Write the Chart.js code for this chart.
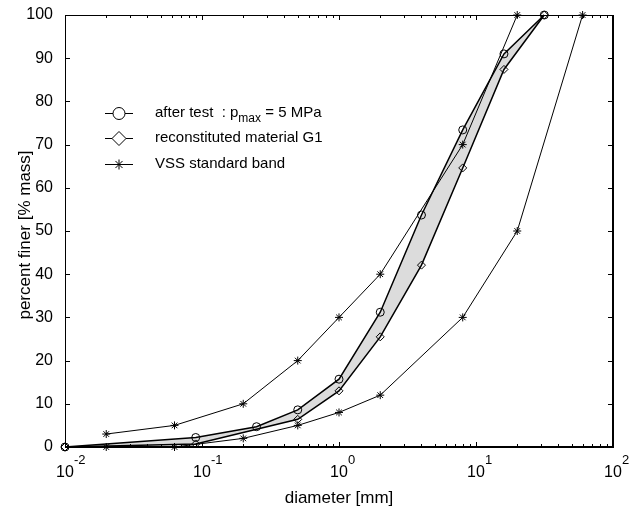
<!DOCTYPE html>
<html>
<head>
<meta charset="utf-8">
<script src="https://cdn.jsdelivr.net/npm/chart.js@4.4.1/dist/chart.umd.min.js"></script>
<style>
  html, body { margin: 0; padding: 0; background: #fff; }
  #wrap { width: 641px; height: 507px; }
</style>
</head>
<body>
<div id="wrap"><canvas id="chart" width="641" height="507"></canvas></div>
<script>
// grain size curves
const afterX = [0.01, 0.09, 0.25, 0.5, 1, 2, 4, 8, 16, 31.5];
const afterY = [0, 2.2, 4.7, 8.6, 15.7, 31.2, 53.7, 73.4, 91, 100];
const reconX = [0.01, 0.09, 0.5, 1, 2, 4, 8, 16, 31.5];
const reconY = [0, 0.7, 6.4, 13, 25.5, 42.1, 64.6, 87.4, 100];
const vssUpperX = [0.02, 0.063, 0.2, 0.5, 1, 2, 8, 20];
const vssUpperY = [3, 5, 10, 20, 30, 40, 70, 100];
const vssLowerX = [0.02, 0.063, 0.2, 0.5, 1, 2, 8, 20, 60];
const vssLowerY = [0, 0, 2, 5, 8, 12, 30, 50, 100];

const xTickExp = [-2, -1, 0, 1, 2];
const yTicks = [0, 10, 20, 30, 40, 50, 60, 70, 80, 90, 100];

const FONT = "'Liberation Sans', Arial, Helvetica, sans-serif";

function pts(xs, ys) {
  return xs.map((x, i) => ({ x: x, y: ys[i] }));
}

function marker(ctx, style, x, y, r) {
  ctx.beginPath();
  if (style === 'circle') {
    ctx.arc(x, y, r, 0, Math.PI * 2);
  } else if (style === 'rectRot') {
    ctx.moveTo(x, y - r);
    ctx.lineTo(x + r, y);
    ctx.lineTo(x, y + r);
    ctx.lineTo(x - r, y);
    ctx.closePath();
  } else {
    for (let a = 0; a < 4; a++) {
      const ang = a * Math.PI / 4;
      ctx.moveTo(x - Math.cos(ang) * r, y - Math.sin(ang) * r);
      ctx.lineTo(x + Math.cos(ang) * r, y + Math.sin(ang) * r);
    }
  }
  ctx.stroke();
}

const framePlugin = {
  id: 'frame',
  afterDraw(chart) {
    const ctx = chart.ctx;
    const area = chart.chartArea;
    const xs = chart.scales.x;
    const ys = chart.scales.y;
    ctx.save();
    ctx.strokeStyle = '#000';
    ctx.fillStyle = '#000';

    // box
    ctx.lineWidth = 1;
    ctx.beginPath();
    ctx.moveTo(area.left + 0.5, area.bottom);
    ctx.lineTo(area.left + 0.5, area.top + 0.5);
    ctx.lineTo(area.right, area.top + 0.5);
    ctx.stroke();
    ctx.lineWidth = 2;
    ctx.beginPath();
    ctx.moveTo(area.left, area.bottom);
    ctx.lineTo(area.right, area.bottom);
    ctx.lineTo(area.right, area.top);
    ctx.stroke();

    // x ticks, major + minor, top and bottom
    ctx.lineWidth = 1;
    ctx.beginPath();
    for (let e = -2; e <= 1; e++) {
      for (let k = 1; k <= 9; k++) {
        const px = Math.round(xs.getPixelForValue(k * Math.pow(10, e))) + 0.5;
        const len = k === 1 ? 5 : 3;
        ctx.moveTo(px, area.bottom);
        ctx.lineTo(px, area.bottom - len);
        ctx.moveTo(px, area.top);
        ctx.lineTo(px, area.top + len);
      }
    }
    // y ticks left and right
    yTicks.forEach(v => {
      const py = Math.round(ys.getPixelForValue(v)) + 0.5;
      ctx.moveTo(area.left, py);
      ctx.lineTo(area.left + 5, py);
      ctx.moveTo(area.right, py);
      ctx.lineTo(area.right - 5, py);
    });
    ctx.stroke();

    // x tick labels 10^n
    ctx.textBaseline = 'alphabetic';
    xTickExp.forEach(e => {
      const px = xs.getPixelForValue(Math.pow(10, e));
      ctx.font = '16px ' + FONT;
      ctx.textAlign = 'center';
      ctx.fillText('10', px, 477);
      const w = ctx.measureText('10').width;
      ctx.font = '13px ' + FONT;
      ctx.textAlign = 'left';
      ctx.fillText(String(e), px + w / 2, 464);
    });

    // axis titles
    ctx.font = '17px ' + FONT;
    ctx.textAlign = 'center';
    ctx.fillText('diameter [mm]', (area.left + area.right) / 2, 503);
    ctx.save();
    ctx.translate(25, (area.top + area.bottom) / 2 + 4);
    ctx.rotate(-Math.PI / 2);
    ctx.textBaseline = 'middle';
    ctx.fillText('percent finer [% mass]', 0, 0);
    ctx.restore();

    // legend
    const rows = [
      { style: 'circle', y: 113, r: 6 },
      { style: 'rectRot', y: 138, r: 7 },
      { style: 'star', y: 164, r: 5 }
    ];
    ctx.lineWidth = 1;
    rows.forEach(row => {
      ctx.beginPath();
      ctx.moveTo(105, row.y + 0.5);
      ctx.lineTo(133, row.y + 0.5);
      ctx.stroke();
      if (row.style !== 'star') {
        ctx.fillStyle = '#fff';
        ctx.beginPath();
        if (row.style === 'circle') ctx.arc(119, row.y + 0.5, row.r, 0, Math.PI * 2);
        else { ctx.moveTo(119, row.y + 0.5 - row.r); ctx.lineTo(119 + row.r, row.y + 0.5); ctx.lineTo(119, row.y + 0.5 + row.r); ctx.lineTo(119 - row.r, row.y + 0.5); ctx.closePath(); }
        ctx.fill();
        ctx.fillStyle = '#000';
      }
      marker(ctx, row.style, 119, row.y + 0.5, row.r);
    });

    ctx.textAlign = 'left';
    ctx.textBaseline = 'middle';
    ctx.font = '15px ' + FONT;
    let tx = 155;
    ctx.fillText('after test  : p', tx, 113);
    tx += ctx.measureText('after test  : p').width;
    ctx.font = '12px ' + FONT;
    ctx.fillText('max', tx, 119);
    tx += ctx.measureText('max').width;
    ctx.font = '15px ' + FONT;
    ctx.fillText(' = 5 MPa', tx, 113);
    ctx.fillText('reconstituted material G1', 155, 138);
    ctx.fillText('VSS standard band', 155, 164);

    ctx.restore();
  }
};

new Chart(document.getElementById('chart'), {
  type: 'scatter',
  data: {
    datasets: [
      {
        label: 'after test',
        data: pts(afterX, afterY),
        showLine: true,
        borderColor: '#000',
        borderWidth: 1.5,
        fill: '+1',
        backgroundColor: '#dcdcdc',
        pointStyle: 'circle',
        pointRadius: 4,
        pointBorderWidth: 1,
        pointBorderColor: '#000',
        pointBackgroundColor: 'rgba(0,0,0,0)'
      },
      {
        label: 'reconstituted material G1',
        data: pts(reconX, reconY),
        showLine: true,
        borderColor: '#000',
        borderWidth: 1.5,
        fill: false,
        pointStyle: 'rectRot',
        pointRadius: 4,
        pointBorderWidth: 1,
        pointBorderColor: '#000',
        pointBackgroundColor: 'rgba(0,0,0,0)'
      },
      {
        label: 'VSS upper',
        data: pts(vssUpperX, vssUpperY),
        showLine: true,
        borderColor: '#000',
        borderWidth: 1,
        fill: false,
        pointStyle: 'star',
        pointRadius: 4,
        pointBorderWidth: 1,
        pointBorderColor: '#000'
      },
      {
        label: 'VSS lower',
        data: pts(vssLowerX, vssLowerY),
        showLine: true,
        borderColor: '#000',
        borderWidth: 1,
        fill: false,
        pointStyle: 'star',
        pointRadius: 4,
        pointBorderWidth: 1,
        pointBorderColor: '#000'
      }
    ]
  },
  options: {
    responsive: false,
    animation: false,
    clip: false,
    layout: { padding: { top: 15, right: 28, left: 0, bottom: 0 } },
    plugins: {
      legend: { display: false },
      tooltip: { enabled: false },
      filler: { drawTime: 'beforeDatasetsDraw' }
    },
    scales: {
      x: {
        type: 'logarithmic',
        min: 0.01,
        max: 100,
        grid: { display: false, drawTicks: false },
        border: { display: false },
        ticks: { display: false },
        afterFit(scale) { scale.height = 60; }
      },
      y: {
        min: 0,
        max: 100,
        grid: { display: false, drawTicks: false },
        border: { display: false },
        afterBuildTicks(scale) { scale.ticks = yTicks.map(v => ({ value: v })); },
        ticks: {
          padding: 12,
          color: '#000',
          font: { family: FONT, size: 16 }
        },
        afterFit(scale) {
          scale.width = 65;
          scale.paddingTop = 0;
          scale.paddingBottom = 0;
        }
      }
    }
  },
  plugins: [framePlugin]
});
</script>
</body>
</html>
